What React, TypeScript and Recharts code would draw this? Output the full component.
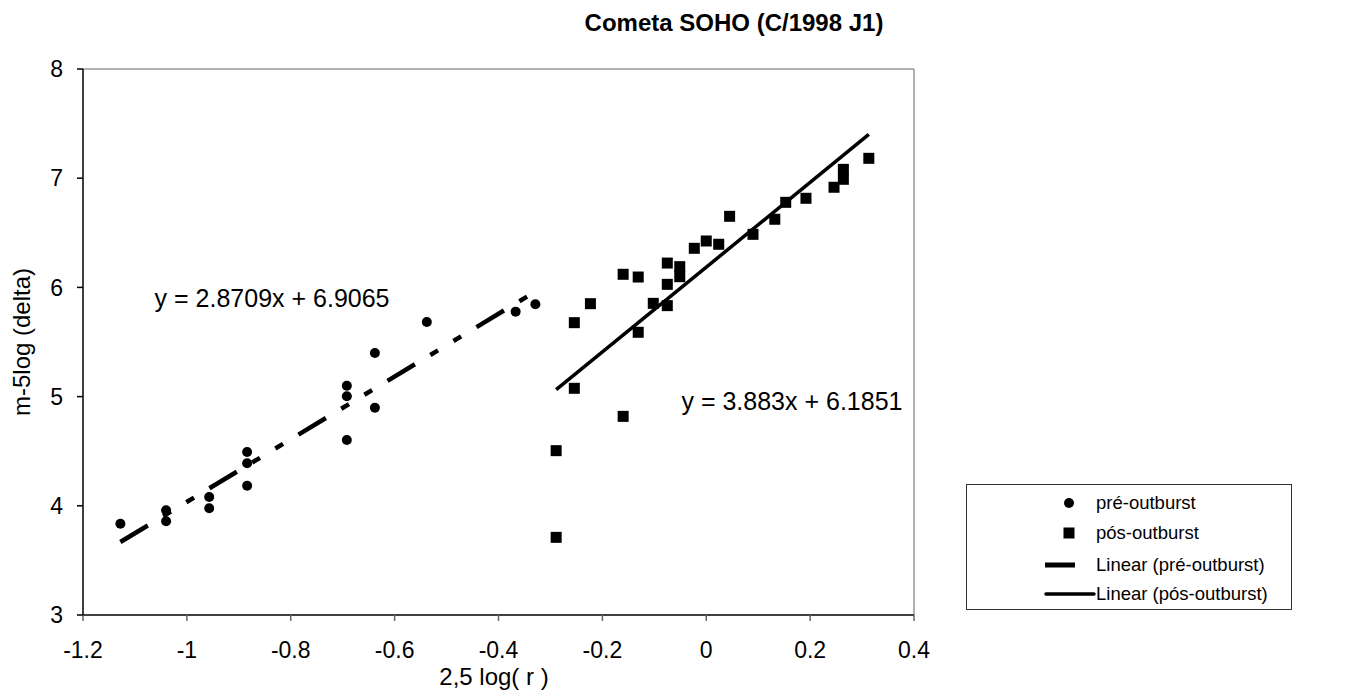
import React from "react";
import {
  ScatterChart, Scatter, XAxis, YAxis, ReferenceLine, ReferenceDot,
} from "recharts";

const FONT = '"Liberation Sans", Arial, sans-serif';

const xTicks = [-1.2, -1, -0.8, -0.6, -0.4, -0.2, 0, 0.2, 0.4];
const yTicks = [3, 4, 5, 6, 7, 8];

// pré-outburst observations
const preX = [-1.128, -1.04, -1.04, -0.957, -0.957, -0.884, -0.884, -0.884, -0.692, -0.692, -0.692, -0.638, -0.638, -0.538, -0.367, -0.329];
const preY = [3.836, 3.96, 3.858, 4.08, 3.977, 4.493, 4.389, 4.184, 5.1, 5.003, 4.603, 5.399, 4.898, 5.683, 5.778, 5.845];

// pós-outburst observations
const posX = [-0.289, -0.289, -0.254, -0.254, -0.223, -0.16, -0.16, -0.131, -0.131, -0.102, -0.075, -0.075, -0.075, -0.051, -0.051, -0.023, 0, 0.024, 0.045, 0.09, 0.132, 0.153, 0.192, 0.246, 0.264, 0.264, 0.313];
const posY = [3.711, 4.505, 5.076, 5.677, 5.851, 4.819, 6.12, 5.589, 6.095, 5.854, 5.833, 6.028, 6.223, 6.098, 6.19, 6.358, 6.425, 6.395, 6.651, 6.486, 6.624, 6.779, 6.816, 6.917, 6.99, 7.081, 7.182];

// trendlines as printed on the chart
const preFit = { slope: 2.8709, intercept: 6.9065, from: -1.128, to: -0.329 };
const posFit = { slope: 3.883, intercept: 6.1851, from: -0.289, to: 0.313 };

const preData = preX.map((x, i) => ({ x, y: preY[i] }));
const posData = posX.map((x, i) => ({ x, y: posY[i] }));
const fitLine = (f: typeof preFit) => [
  { x: f.from, y: f.slope * f.from + f.intercept },
  { x: f.to, y: f.slope * f.to + f.intercept },
];

const Dot = (p: any) => <circle cx={p.cx} cy={p.cy} r={5} fill="#000" />;
const Square = (p: any) => <rect x={p.cx - 5.5} y={p.cy - 5.5} width={11} height={11} fill="#000" />;
const NoShape = () => <g />;

const LegendBox = () => {
  const rows = [
    { label: "pré-outburst", y: 18 },
    { label: "pós-outburst", y: 48 },
    { label: "Linear (pré-outburst)", y: 80 },
    { label: "Linear (pós-outburst)", y: 109 },
  ];
  return (
    <svg
      width={326}
      height={126}
      style={{ position: "absolute", left: 966, top: 484, display: "block", border: "1px solid #333", boxSizing: "border-box", background: "#fff" }}
    >
      <circle cx={102} cy={rows[0].y} r={5} fill="#000" />
      <rect x={96.5} y={rows[1].y - 5.5} width={11} height={11} fill="#000" />
      <line x1={78} x2={108} y1={rows[2].y} y2={rows[2].y} stroke="#000" strokeWidth={5} />
      <line x1={79} x2={127} y1={rows[3].y} y2={rows[3].y} stroke="#000" strokeWidth={3.5} strokeLinecap="round" />
      {rows.map((r) => (
        <text key={r.label} x={129} y={r.y} dy="0.35em" fontSize={18.5} fontFamily={FONT} fill="#000">
          {r.label}
        </text>
      ))}
    </svg>
  );
};

export default function App() {
  return (
    <div style={{ position: "absolute", left: 0, top: 0, width: 1351, height: 700, background: "#fff" }}>
      <ScatterChart width={1351} height={700} margin={{ top: 69, right: 437, bottom: 0, left: 23 }}>
        <XAxis
          type="number"
          dataKey="x"
          domain={[-1.2, 0.4]}
          ticks={xTicks}
          allowDataOverflow
          height={85}
          axisLine={{ stroke: "#000", strokeWidth: 1.5 }}
          tickLine={{ stroke: "#666", strokeWidth: 1.5 }}
          tickSize={6}
          tickMargin={21}
          tick={{ fontSize: 23, fill: "#000", fontFamily: FONT }}
          tickFormatter={(v) => String(v)}
        />
        <YAxis
          type="number"
          dataKey="y"
          domain={[3, 8]}
          ticks={yTicks}
          allowDataOverflow
          width={60}
          axisLine={{ stroke: "#000", strokeWidth: 1.5 }}
          tickLine={{ stroke: "#000", strokeWidth: 1.5 }}
          tickSize={6}
          tickMargin={14}
          tick={{ fontSize: 23, fill: "#000", fontFamily: FONT }}
        />
        <ReferenceLine y={8} stroke="#999" strokeWidth={1.5} />
        <ReferenceLine x={0.4} stroke="#999" strokeWidth={1.5} />
        <Scatter
          data={fitLine(preFit)}
          shape={NoShape}
          line={{ stroke: "#000", strokeWidth: 4.5, strokeDasharray: "32 18 9 18 9 18" }}
          isAnimationActive={false}
        />
        <Scatter
          data={fitLine(posFit)}
          shape={NoShape}
          line={{ stroke: "#000", strokeWidth: 3.5 }}
          isAnimationActive={false}
        />
        <Scatter data={preData} shape={Dot} isAnimationActive={false} />
        <Scatter data={posData} shape={Square} isAnimationActive={false} />
        <ReferenceDot
          x={-0.836}
          y={5.903}
          r={0}
          label={{ value: "y = 2.8709x + 6.9065", position: "center", fontSize: 25, fill: "#000", fontFamily: FONT }}
        />
        <ReferenceDot
          x={0.165}
          y={4.962}
          r={0}
          label={{ value: "y = 3.883x + 6.1851", position: "center", fontSize: 25, fill: "#000", fontFamily: FONT }}
        />
        <text x={734} y={31} textAnchor="middle" fontSize={24} fontWeight="bold" fontFamily={FONT} fill="#000">
          Cometa SOHO (C/1998 J1)
        </text>
        <text x={494} y={685} textAnchor="middle" fontSize={24} fontFamily={FONT} fill="#000">
          2,5 log( r )
        </text>
        <text transform="translate(30,342) rotate(-90)" textAnchor="middle" fontSize={24} fontFamily={FONT} fill="#000">
          m-5log (delta)
        </text>
      </ScatterChart>
      <LegendBox />
    </div>
  );
}
